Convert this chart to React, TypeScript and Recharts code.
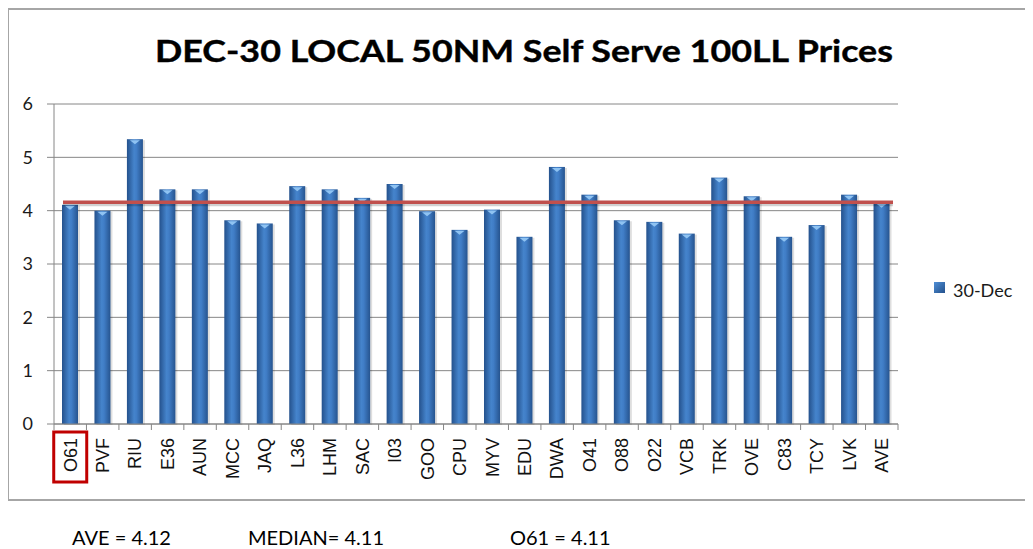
import React from 'react';
import { BarChart, Bar, XAxis, YAxis, CartesianGrid, ReferenceLine } from 'recharts';

const categories = ['O61', 'PVF', 'RIU', 'E36', 'AUN', 'MCC', 'JAQ', 'L36', 'LHM', 'SAC', 'I03', 'GOO', 'CPU', 'MYV', 'EDU', 'DWA', 'O41', 'O88', 'O22', 'VCB', 'TRK', 'OVE', 'C83', 'TCY', 'LVK', 'AVE'];
const prices = [4.11, 4.0, 5.34, 4.4, 4.4, 3.82, 3.76, 4.46, 4.4, 4.24, 4.5, 3.99, 3.64, 4.02, 3.51, 4.82, 4.3, 3.82, 3.79, 3.57, 4.62, 4.27, 3.51, 3.73, 4.3, 4.15];
const yTicks = [0, 1, 2, 3, 4, 5, 6];
const averageLine = 4.16;
const highlightedCategory = 'O61';
const seriesName = '30-Dec';
const titleText = 'DEC-30 LOCAL 50NM Self Serve 100LL Prices';
const summaryTexts = ['AVE = 4.12', 'MEDIAN= 4.11', 'O61 = 4.11'];

const data = categories.map((c, i) => ({ name: c, value: prices[i] }));

const CHART_W = 1025;
const CHART_H = 493;
const MARGIN = { top: 96, right: 135, bottom: 7, left: 0 };
const Y_AXIS_W = 46;
const BAND = (CHART_W - MARGIN.right - MARGIN.left - Y_AXIS_W) / categories.length;
const GRID = '#868686';

const BarShape = (props: any) => {
  const { x, y, width, height } = props;
  if (height == null || height <= 0) return null;
  const cx = x + width / 2;
  return (
    <g>
      <rect x={x + 2} y={y + 1} width={width} height={height} fill="rgba(0,0,0,0.13)" />
      <rect x={x} y={y} width={width} height={height} fill="url(#barGrad)" />
      <polygon points={`${cx - 5},${y + 1} ${cx + 5},${y + 1} ${cx},${y + 5}`} fill="#8fc3f2" />
    </g>
  );
};

const XTick = (props: any) => {
  const { x, y, payload, index } = props;
  const half = BAND / 2;
  const isLast = index === categories.length - 1;
  return (
    <g>
      <line x1={x - half} y1={y} x2={x - half} y2={y + 6} stroke={GRID} />
      {isLast && <line x1={x + half} y1={y} x2={x + half} y2={y + 6} stroke={GRID} />}
      {payload.value === highlightedCategory && (
        <rect x={x - 16.5} y={y + 8} width={33} height={50} fill="none" stroke="#c00000" strokeWidth={3} />
      )}
      <text
        transform={`translate(${x},${y + 14}) rotate(-90)`}
        textAnchor="end"
        dy="0.35em"
        fontFamily="'Liberation Sans', Arial, sans-serif"
        fontSize={18}
        fill="#111"
      >
        {payload.value}
      </text>
    </g>
  );
};

const AvgLineShape = (props: any) => {
  const { x1, y1, x2, y2 } = props;
  const a = x1 + 9;
  const b = x2 - 5;
  return (
    <g>
      <line x1={a} y1={y1 + 2.5} x2={b} y2={y2 + 2.5} stroke="rgba(0,0,0,0.18)" strokeWidth={3} />
      <line x1={a} y1={y1} x2={b} y2={y2} stroke="#c0504d" strokeWidth={3.5} />
    </g>
  );
};

export default function App() {
  return (
    <div style={{ position: 'relative', width: 1025, height: 541, fontFamily: 'Lato, sans-serif' }}>
      <div
        style={{
          position: 'absolute',
          left: -1,
          top: 0,
          width: 1026,
          height: CHART_H,
          borderTop: '2px solid #a6a6a6',
          borderLeft: '2px solid #a6a6a6',
          borderBottom: '2px solid #a6a6a6',
          boxSizing: 'border-box',
        }}
      />
      <div style={{ position: 'absolute', left: 0, top: 0 }}>
        <BarChart width={CHART_W} height={CHART_H} data={data} margin={MARGIN} barCategoryGap={0}>
          <defs>
            <linearGradient id="barGrad" x1="0" y1="0" x2="1" y2="0">
              <stop offset="0%" stopColor="#24518c" />
              <stop offset="45%" stopColor="#4584cc" />
              <stop offset="60%" stopColor="#407dc6" />
              <stop offset="100%" stopColor="#26548f" />
            </linearGradient>
          </defs>
          <CartesianGrid vertical={false} stroke={GRID} />
          <XAxis
            dataKey="name"
            interval={0}
            tickSize={0}
            tickMargin={0}
            height={70}
            axisLine={{ stroke: GRID }}
            tickLine={false}
            tick={<XTick />}
          />
          <YAxis
            domain={[0, 6]}
            ticks={yTicks}
            width={Y_AXIS_W}
            tickSize={7}
            tickMargin={14}
            axisLine={{ stroke: GRID }}
            tickLine={{ stroke: GRID }}
            tick={{ fontFamily: 'Lato, sans-serif', fontSize: 18, fill: '#1a1a1a' }}
            interval={0}
          />
          <Bar dataKey="value" name={seriesName} barSize={16} shape={<BarShape />} isAnimationActive={false} />
          <ReferenceLine y={averageLine} shape={<AvgLineShape />} />
        </BarChart>
      </div>
      <svg width={1025} height={541} style={{ position: 'absolute', left: 0, top: 0, pointerEvents: 'none' }}>
        <text
          x={147}
          y={54}
          fontFamily="Lato, sans-serif"
          fontWeight="bold"
          fontSize={31}
          fill="#000"
          stroke="#000"
          strokeWidth={0.4}
          textLength={738}
          lengthAdjust="spacingAndGlyphs"
        >
          {titleText}
        </text>
        <rect x={926} y={274} width={11} height={11} fill="url(#legGrad)" />
        <defs>
          <linearGradient id="legGrad" x1="0" y1="0" x2="1" y2="1">
            <stop offset="0%" stopColor="#4f8fd6" />
            <stop offset="100%" stopColor="#24518c" />
          </linearGradient>
        </defs>
        <text x={945} y={289} fontFamily="Lato, sans-serif" fontSize={18} fill="#1a1a1a">
          {seriesName}
        </text>
        <text x={64} y={537} fontFamily="Lato, sans-serif" fontSize={20} fill="#000">
          {summaryTexts[0]}
        </text>
        <text x={240} y={537} fontFamily="Lato, sans-serif" fontSize={20} fill="#000">
          {summaryTexts[1]}
        </text>
        <text x={502} y={537} fontFamily="Lato, sans-serif" fontSize={20} fill="#000">
          {summaryTexts[2]}
        </text>
      </svg>
    </div>
  );
}
